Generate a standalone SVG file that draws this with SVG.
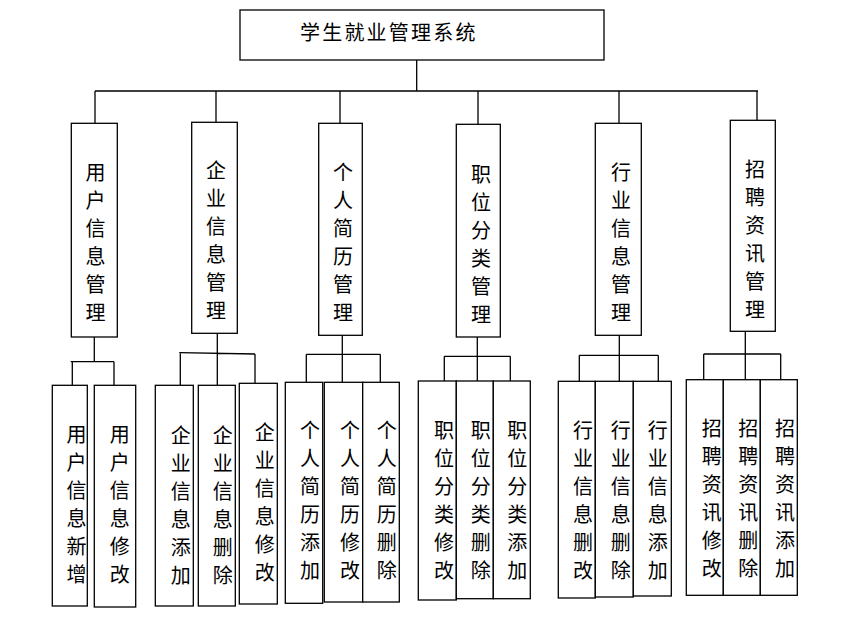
<svg xmlns="http://www.w3.org/2000/svg" width="860" height="636" viewBox="0 0 860 636">
<style>
.box{fill:#fff;stroke:#000;stroke-width:1.3}
.ln{fill:none;stroke:#000;stroke-width:1.3}
text{font-family:"Noto Sans CJK SC","Noto Sans",sans-serif;font-size:20px;fill:#000;text-anchor:middle}
.title{text-anchor:start;letter-spacing:2.2px}
</style>
<rect width="860" height="636" fill="#fff"/>
<g id="connectors">
<path class="ln" d="M416.7,60 V91 M95,91 H758 M95,91 V123.3 M216,91 V122.3 M340,91 V123.3 M478,91 V124.3 M619,91 V123.3 M757,91 V120.3"/>
<path class="ln" d="M94.3,337 V361.7 M70.7,361.7 H114 M72.3,361.7 V385.3 M114,361.7 V385.3"/>
<path class="ln" d="M217.3,333.3 V353.3 M179.3,352.7 L255,354 M180.3,352.7 V385.3 M217.3,353.3 V385.3 M255,354 V383.3"/>
<path class="ln" d="M342.3,335.3 V354.3 M306.3,354.3 H380.3 M306.3,354.3 V382.3 M342.3,354.3 V382.3 M380.3,354.3 V382.3"/>
<path class="ln" d="M477.3,337 V356.3 M444.3,356.3 H510.3 M444.3,356.3 V381 M477.3,356.3 V381 M510.3,356.3 V381"/>
<path class="ln" d="M619.3,335.3 V355.3 M579.3,355.3 H658.3 M579.3,355.3 V381.3 M619.3,355.3 V381.3 M658.3,355.3 V381.3"/>
<path class="ln" d="M745.3,331.3 V354 M703.7,354 H780.7 M703.7,354 V379.7 M745.3,354 V379.7 M780.7,354 V379.7"/>
</g>
<g id="root">
<rect class="box" x="240" y="10" width="364" height="50"/>
<text class="title" x="300" y="40">学生就业管理系统</text>
</g>
<g id="n-yonghu">
<rect class="box" x="71.3" y="123.3" width="46" height="213.7"/>
<text y="179.5"><tspan x="95.5">用</tspan><tspan x="95.5" dy="28">户</tspan><tspan x="95.5" dy="28">信</tspan><tspan x="95.5" dy="28">息</tspan><tspan x="95.5" dy="28">管</tspan><tspan x="95.5" dy="28">理</tspan></text>
</g>
<g id="n-qiye">
<rect class="box" x="191.7" y="122.3" width="45.6" height="211"/>
<text y="178"><tspan x="216">企</tspan><tspan x="216" dy="28">业</tspan><tspan x="216" dy="28">信</tspan><tspan x="216" dy="28">息</tspan><tspan x="216" dy="28">管</tspan><tspan x="216" dy="28">理</tspan></text>
</g>
<g id="n-geren">
<rect class="box" x="318.7" y="123.3" width="43.6" height="212"/>
<text y="179.5"><tspan x="343">个</tspan><tspan x="343" dy="28">人</tspan><tspan x="343" dy="28">简</tspan><tspan x="343" dy="28">历</tspan><tspan x="343" dy="28">管</tspan><tspan x="343" dy="28">理</tspan></text>
</g>
<g id="n-zhiwei">
<rect class="box" x="456.3" y="124.3" width="44" height="212.7"/>
<text y="181.5"><tspan x="481">职</tspan><tspan x="481" dy="28">位</tspan><tspan x="481" dy="28">分</tspan><tspan x="481" dy="28">类</tspan><tspan x="481" dy="28">管</tspan><tspan x="481" dy="28">理</tspan></text>
</g>
<g id="n-hangye">
<rect class="box" x="595.3" y="123.3" width="46" height="212"/>
<text y="179.5"><tspan x="621">行</tspan><tspan x="621" dy="28">业</tspan><tspan x="621" dy="28">信</tspan><tspan x="621" dy="28">息</tspan><tspan x="621" dy="28">管</tspan><tspan x="621" dy="28">理</tspan></text>
</g>
<g id="n-zhaopin">
<rect class="box" x="730.3" y="120.3" width="45" height="211"/>
<text y="176.5"><tspan x="755">招</tspan><tspan x="755" dy="28">聘</tspan><tspan x="755" dy="28">资</tspan><tspan x="755" dy="28">讯</tspan><tspan x="755" dy="28">管</tspan><tspan x="755" dy="28">理</tspan></text>
</g>
<g id="n-yonghu-add">
<rect class="box" x="52.3" y="385.3" width="35" height="220.7"/>
<text y="441.5"><tspan x="76.5">用</tspan><tspan x="76.5" dy="28">户</tspan><tspan x="76.5" dy="28">信</tspan><tspan x="76.5" dy="28">息</tspan><tspan x="76.5" dy="28">新</tspan><tspan x="76.5" dy="28">增</tspan></text>
</g>
<g id="n-yonghu-edit">
<rect class="box" x="94.3" y="385.3" width="41.4" height="221.7"/>
<text y="441.5"><tspan x="119.7">用</tspan><tspan x="119.7" dy="28">户</tspan><tspan x="119.7" dy="28">信</tspan><tspan x="119.7" dy="28">息</tspan><tspan x="119.7" dy="28">修</tspan><tspan x="119.7" dy="28">改</tspan></text>
</g>
<g id="n-qiye-add">
<rect class="box" x="155.3" y="385.3" width="38" height="220.7"/>
<text y="443"><tspan x="180.7">企</tspan><tspan x="180.7" dy="28">业</tspan><tspan x="180.7" dy="28">信</tspan><tspan x="180.7" dy="28">息</tspan><tspan x="180.7" dy="28">添</tspan><tspan x="180.7" dy="28">加</tspan></text>
</g>
<g id="n-qiye-del">
<rect class="box" x="198.3" y="385.3" width="37" height="220.7"/>
<text y="443"><tspan x="222.7">企</tspan><tspan x="222.7" dy="28">业</tspan><tspan x="222.7" dy="28">信</tspan><tspan x="222.7" dy="28">息</tspan><tspan x="222.7" dy="28">删</tspan><tspan x="222.7" dy="28">除</tspan></text>
</g>
<g id="n-qiye-edit">
<rect class="box" x="239.3" y="383.3" width="38" height="220.7"/>
<text y="440"><tspan x="264.7">企</tspan><tspan x="264.7" dy="28">业</tspan><tspan x="264.7" dy="28">信</tspan><tspan x="264.7" dy="28">息</tspan><tspan x="264.7" dy="28">修</tspan><tspan x="264.7" dy="28">改</tspan></text>
</g>
<g id="n-geren-add">
<rect class="box" x="285.3" y="382.3" width="37.4" height="221"/>
<text y="438"><tspan x="310">个</tspan><tspan x="310" dy="28">人</tspan><tspan x="310" dy="28">简</tspan><tspan x="310" dy="28">历</tspan><tspan x="310" dy="28">添</tspan><tspan x="310" dy="28">加</tspan></text>
</g>
<g id="n-geren-edit">
<rect class="box" x="324.3" y="382.3" width="38.4" height="219.7"/>
<text y="438"><tspan x="350">个</tspan><tspan x="350" dy="28">人</tspan><tspan x="350" dy="28">简</tspan><tspan x="350" dy="28">历</tspan><tspan x="350" dy="28">修</tspan><tspan x="350" dy="28">改</tspan></text>
</g>
<g id="n-geren-del">
<rect class="box" x="362.7" y="382.3" width="36.6" height="219.7"/>
<text y="438"><tspan x="386.7">个</tspan><tspan x="386.7" dy="28">人</tspan><tspan x="386.7" dy="28">简</tspan><tspan x="386.7" dy="28">历</tspan><tspan x="386.7" dy="28">删</tspan><tspan x="386.7" dy="28">除</tspan></text>
</g>
<g id="n-zhiwei-edit">
<rect class="box" x="418.3" y="381" width="38" height="219"/>
<text y="438"><tspan x="444">职</tspan><tspan x="444" dy="28">位</tspan><tspan x="444" dy="28">分</tspan><tspan x="444" dy="28">类</tspan><tspan x="444" dy="28">修</tspan><tspan x="444" dy="28">改</tspan></text>
</g>
<g id="n-zhiwei-del">
<rect class="box" x="456.3" y="381" width="37" height="217.7"/>
<text y="438"><tspan x="480.7">职</tspan><tspan x="480.7" dy="28">位</tspan><tspan x="480.7" dy="28">分</tspan><tspan x="480.7" dy="28">类</tspan><tspan x="480.7" dy="28">删</tspan><tspan x="480.7" dy="28">除</tspan></text>
</g>
<g id="n-zhiwei-add">
<rect class="box" x="493.3" y="381" width="37" height="217.7"/>
<text y="438"><tspan x="517.3">职</tspan><tspan x="517.3" dy="28">位</tspan><tspan x="517.3" dy="28">分</tspan><tspan x="517.3" dy="28">类</tspan><tspan x="517.3" dy="28">添</tspan><tspan x="517.3" dy="28">加</tspan></text>
</g>
<g id="n-hangye-edit">
<rect class="box" x="558.3" y="381.3" width="37" height="216.7"/>
<text y="438"><tspan x="583">行</tspan><tspan x="583" dy="28">业</tspan><tspan x="583" dy="28">信</tspan><tspan x="583" dy="28">息</tspan><tspan x="583" dy="28">删</tspan><tspan x="583" dy="28">改</tspan></text>
</g>
<g id="n-hangye-del">
<rect class="box" x="595.3" y="381.3" width="38" height="215.7"/>
<text y="438"><tspan x="620.7">行</tspan><tspan x="620.7" dy="28">业</tspan><tspan x="620.7" dy="28">信</tspan><tspan x="620.7" dy="28">息</tspan><tspan x="620.7" dy="28">删</tspan><tspan x="620.7" dy="28">除</tspan></text>
</g>
<g id="n-hangye-add">
<rect class="box" x="633.3" y="381.3" width="38" height="214.7"/>
<text y="438"><tspan x="657.7">行</tspan><tspan x="657.7" dy="28">业</tspan><tspan x="657.7" dy="28">信</tspan><tspan x="657.7" dy="28">息</tspan><tspan x="657.7" dy="28">添</tspan><tspan x="657.7" dy="28">加</tspan></text>
</g>
<g id="n-zhaopin-edit">
<rect class="box" x="686.3" y="379.7" width="37" height="215.6"/>
<text y="436"><tspan x="711.7">招</tspan><tspan x="711.7" dy="28">聘</tspan><tspan x="711.7" dy="28">资</tspan><tspan x="711.7" dy="28">讯</tspan><tspan x="711.7" dy="28">修</tspan><tspan x="711.7" dy="28">改</tspan></text>
</g>
<g id="n-zhaopin-del">
<rect class="box" x="723.3" y="379.7" width="37" height="215.6"/>
<text y="436"><tspan x="748.3">招</tspan><tspan x="748.3" dy="28">聘</tspan><tspan x="748.3" dy="28">资</tspan><tspan x="748.3" dy="28">讯</tspan><tspan x="748.3" dy="28">删</tspan><tspan x="748.3" dy="28">除</tspan></text>
</g>
<g id="n-zhaopin-add">
<rect class="box" x="760.3" y="379.7" width="37" height="215.6"/>
<text y="436"><tspan x="785">招</tspan><tspan x="785" dy="28">聘</tspan><tspan x="785" dy="28">资</tspan><tspan x="785" dy="28">讯</tspan><tspan x="785" dy="28">添</tspan><tspan x="785" dy="28">加</tspan></text>
</g>
</svg>
